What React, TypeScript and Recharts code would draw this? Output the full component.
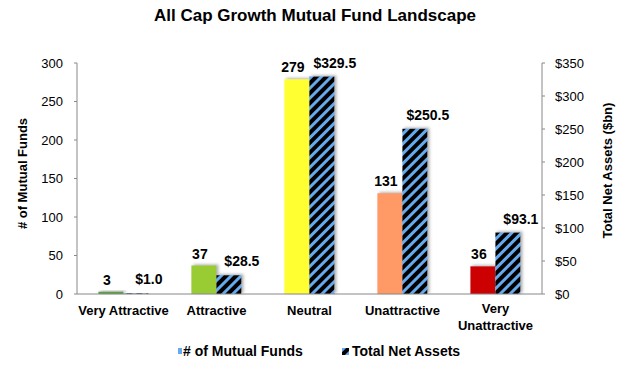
import React from 'react';
import { BarChart, Bar, XAxis, YAxis, Cell, LabelList } from 'recharts';

const categories = ['Very Attractive', 'Attractive', 'Neutral', 'Unattractive', 'Very\nUnattractive'];
const fundCounts = [3, 37, 279, 131, 36];
const netAssets = [1.0, 28.5, 329.5, 250.5, 93.1];
const countColors = ['#5c9e45', '#99cc33', '#ffff33', '#ff9966', '#cc0000'];
const leftTicks = [0, 50, 100, 150, 200, 250, 300];
const rightTicks = [0, 50, 100, 150, 200, 250, 300, 350];

const data = categories.map((c, i) => ({ name: c, funds: fundCounts[i], assets: netAssets[i] }));

const FONT = '"Liberation Sans", Arial, sans-serif';

const XTick = (props: any) => {
  const { x, y, payload } = props;
  const lines = String(payload.value).split('\n');
  const start = lines.length === 1 ? 21 : 19;
  return (
    <text x={x} y={y} textAnchor="middle" fontFamily={FONT} fontSize={13} fontWeight="bold" fill="#000">
      {lines.map((l, i) => (
        <tspan key={i} x={x} dy={i === 0 ? start : 17}>{l}</tspan>
      ))}
    </text>
  );
};

const labelStyle = { fontFamily: FONT, fontSize: 14, fontWeight: 'bold', fill: '#000' };

export default function App() {
  return (
    <div style={{ position: 'absolute', left: 0, top: 0, width: 630, height: 368, background: '#fff' }}>
      <div style={{ position: 'absolute', left: 0, top: 6, width: 630, textAlign: 'center', fontFamily: FONT, fontSize: 17, fontWeight: 'bold' }}>
        All Cap Growth Mutual Fund Landscape
      </div>
      <BarChart
        width={630}
        height={368}
        data={data}
        margin={{ top: 63, right: 0, bottom: 44, left: 0 }}
        barCategoryGap="23%"
        barGap={0}
      >
        <defs>
          <pattern id="stripes" patternUnits="userSpaceOnUse" width={7} height={7} patternTransform="rotate(45)">
            <rect width={7} height={7} fill="#000" />
            <rect width={3} height={7} fill="#66aaee" />
          </pattern>
          <filter id="shadow" x="-30%" y="-30%" width="160%" height="160%">
            <feDropShadow dx={2} dy={-1} stdDeviation={1.5} floodColor="#777" floodOpacity={0.6} />
          </filter>
        </defs>
        <XAxis
          dataKey="name"
          height={30}
          tick={<XTick />}
          tickLine={false}
          tickSize={0}
          tickMargin={0}
          interval={0}
          axisLine={{ stroke: '#888' }}
        />
        <YAxis
          yAxisId="left"
          orientation="left"
          width={77}
          domain={[0, 300]}
          ticks={leftTicks}
          interval={0}
          tickSize={3}
          tickMargin={11}
          axisLine={{ stroke: '#888' }}
          tickLine={{ stroke: '#888' }}
          tick={{ fontFamily: FONT, fontSize: 13, fill: '#000' }}
          label={{ value: '# of Mutual Funds', angle: -90, position: 'center', dx: -16, dy: -5, style: { fontFamily: FONT, fontSize: 13, fontWeight: 'bold', fill: '#000' } }}
        />
        <YAxis
          yAxisId="right"
          orientation="right"
          width={88}
          domain={[0, 350]}
          ticks={rightTicks}
          interval={0}
          tickSize={3}
          tickMargin={10}
          axisLine={{ stroke: '#888' }}
          tickLine={{ stroke: '#888' }}
          tickFormatter={(v: number) => `$${v}`}
          tick={{ fontFamily: FONT, fontSize: 13, fill: '#000', textAnchor: 'start' }}
          label={{ value: 'Total Net Assets ($bn)', angle: -90, position: 'center', dx: 21, dy: -8, style: { fontFamily: FONT, fontSize: 13, fontWeight: 'bold', fill: '#000' } }}
        />
        <Bar yAxisId="left" dataKey="funds" isAnimationActive={false} style={{ filter: 'url(#shadow)' }}>
          {data.map((d, i) => (
            <Cell key={i} fill={countColors[i]} />
          ))}
          <LabelList dataKey="funds" position="top" offset={7} dx={-4} style={labelStyle} />
        </Bar>
        <Bar yAxisId="right" dataKey="assets" fill="url(#stripes)" isAnimationActive={false} style={{ filter: 'url(#shadow)' }}>
          <LabelList
            dataKey="assets"
            position="top"
            offset={9}
            dx={13}
            formatter={(v: number) => `$${Number(v).toFixed(1)}`}
            style={labelStyle}
          />
        </Bar>
      </BarChart>
      <div style={{ position: 'absolute', left: 0, top: 343, width: 630, height: 20, fontFamily: FONT, fontSize: 14, fontWeight: 'bold', color: '#000' }}>
        <div style={{ position: 'absolute', left: 178, top: 5, width: 4, height: 6, background: '#66aaee' }} />
        <div style={{ position: 'absolute', left: 183, top: 0 }}># of Mutual Funds</div>
        <svg style={{ position: 'absolute', left: 342, top: 5 }} width={7} height={7}>
          <rect width={7} height={7} fill="url(#stripes)" />
        </svg>
        <div style={{ position: 'absolute', left: 352, top: 0 }}>Total Net Assets</div>
      </div>
    </div>
  );
}
